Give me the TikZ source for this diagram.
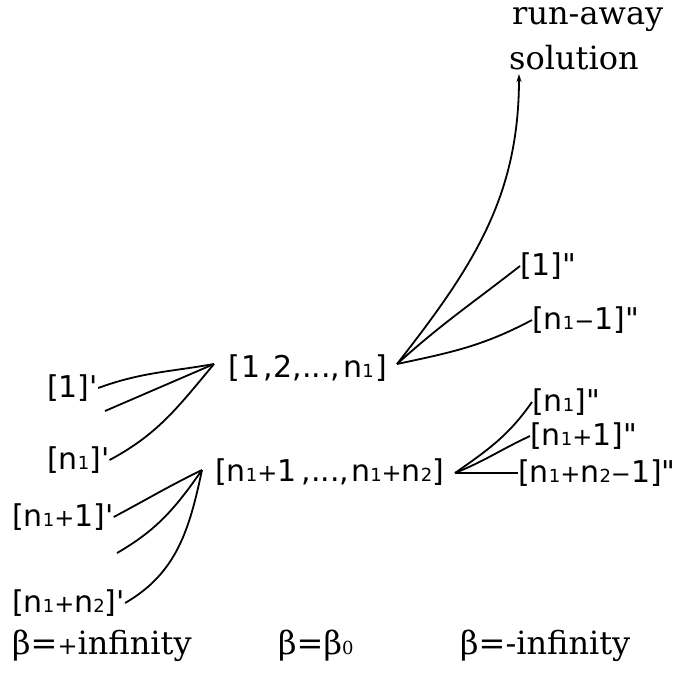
\documentclass[tikz,border=0pt]{standalone}
\usepackage{fontspec}
\setmainfont{DejaVu Sans}
\newfontfamily\serifx{DejaVu Serif}
\newfontfamily\qf{DejaVu Sans}
\usetikzlibrary{arrows.meta}
\newcommand{\lo}[1]{{\fontsize{18}{18}\selectfont #1}}
\newcommand{\pl}{{\fontsize{24}{24}\selectfont +}}
\newcommand{\mi}{{\fontsize{24}{24}\selectfont −}}
\newcommand{\sq}{{\qf'}}
\newcommand{\dq}{{\qf"}}
\begin{document}
\begin{tikzpicture}[x=1pt,y=-1pt,
  lab/.style={font=\fontsize{30}{32}\selectfont, inner sep=0pt, anchor=west},
  ser/.style={font=\serifx\fontsize{32}{34}\selectfont, inner sep=0pt, anchor=west},
  ln/.style={line width=1.8pt}]
\useasboundingbox (0,0) rectangle (679,673);
% main nodes
\node[lab] (T) at (228,368) {[\kern2pt1\kern3pt,2,...,\kern3pt n\lo{1}\kern2pt]};
\node[lab] (B) at (215,472) {[n\lo{1}\pl1\kern5pt,...,\kern2pt n\lo{1}\pl n\lo{2}]};
% left labels
\node[lab] (a1) at (47,388) {[1]\sq};
\node[lab] (a2) at (47,460) {[n\lo{1}]\sq};
\node[lab] (a3) at (12,517) {[n\lo{1}\pl1]\sq};
\node[lab] (a4) at (12,603) {[n\lo{1}\pl n\lo{2}]\sq};
\coordinate (u1) at (105,411);
\coordinate (u2) at (117,553);
% right labels
\node[lab] (b1) at (520,266) {[1]\dq};
\node[lab] (b2) at (532,320) {[n\lo{1}\mi1]\dq};
\node[lab] (c1) at (532,402) {[n\lo{1}]\dq};
\node[lab] (c2) at (530,436) {[n\lo{1}\pl1]\dq};
\node[lab] (c3) at (518,473) {[n\lo{1}\pl n\lo{2}\mi1]\dq};
% top and bottom texts
\node[ser] (r1) at (512,20) {run-away};
\node[ser] (r2) at (509,58) {solution};
\node[ser] (z1) at (12,646) {β={\fontsize{24}{24}\selectfont+}infinity};
\node[ser] (z2) at (278,646) {β=β\lo{0}};
\node[ser] (z3) at (460,646) {β=-infinity};
% junction points
\coordinate (TL) at (214,364);
\coordinate (TR) at (397,364);
\coordinate (BL) at (202,470);
\coordinate (BR) at (455,473);
\coordinate (AT) at (519,74);
% connectors
\draw[ln] (a1.east) to[out=20,in=190] (TL);
\draw[ln] (u1) -- (TL);
\draw[ln] (a2.east) to[out=28,in=230] (TL);
\draw[ln] (a3.east) to[out=28,in=206] (BL);
\draw[ln] (u2) to[out=30,in=235] (BL);
\draw[ln] (a4.east) to[out=30,in=258] (BL);
\draw[ln] (TR) to[out=42,in=218] (b1.west);
\draw[ln] (TR) to[out=12,in=208] (b2.west);
\draw[ln,-{Stealth[length=8pt,width=5pt]}] (TR) to[out=52,in=-90] (AT);
\draw[ln] (BR) to[out=35,in=235] (c1.west);
\draw[ln] (BR) to[out=22,in=205] (c2.west);
\draw[ln] (BR) -- (c3.west);
\end{tikzpicture}
\end{document}
